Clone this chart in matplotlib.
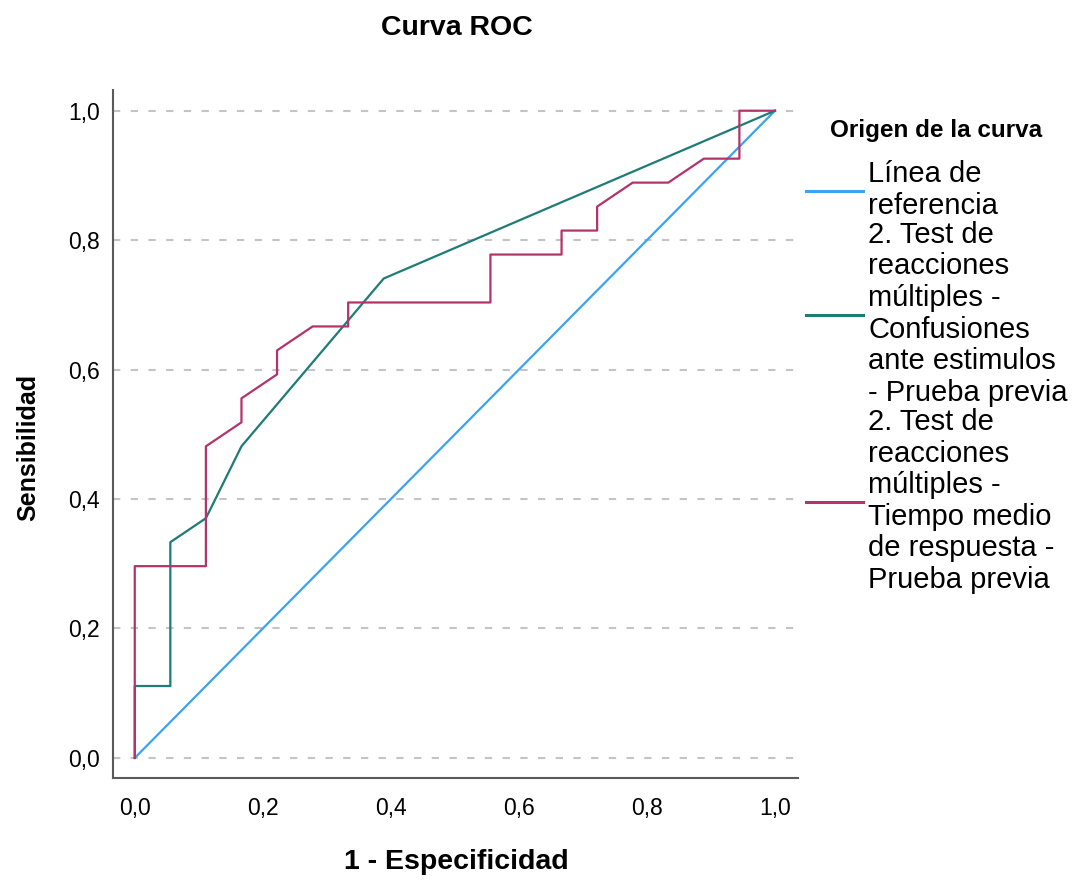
import matplotlib
matplotlib.use("Agg")
import matplotlib.pyplot as plt

plt.rcParams['font.family'] = ['Liberation Sans', 'DejaVu Sans']

# Data (FPR in 1/18 steps, TPR in 1/27 steps)
ref_x = [0.0, 1.0]
ref_y = [0.0, 1.0]

conf_x = [0.0, 0.0, 1/18, 1/18, 2/18, 3/18, 7/18, 1.0]
conf_y = [0.0, 3/27, 3/27, 9/27, 10/27, 13/27, 20/27, 1.0]

tiempo_x = [0.0, 0.0, 2/18, 2/18, 3/18, 3/18, 4/18, 4/18, 5/18, 6/18, 6/18,
            10/18, 10/18, 12/18, 12/18, 13/18, 13/18, 14/18, 15/18, 16/18,
            17/18, 17/18, 1.0]
tiempo_y = [0.0, 8/27, 8/27, 13/27, 14/27, 15/27, 16/27, 17/27, 18/27, 18/27, 19/27,
            19/27, 21/27, 21/27, 22/27, 22/27, 23/27, 24/27, 24/27, 25/27,
            25/27, 27/27, 1.0]

labels = ["Línea de\nreferencia",
          "2. Test de\nreacciones\nmúltiples -\nConfusiones\nante estimulos\n- Prueba previa",
          "2. Test de\nreacciones\nmúltiples -\nTiempo medio\nde respuesta -\nPrueba previa"]
colors = ["#3AA3F2", "#1E7B76", "#B3336C"]
ticks = [0.0, 0.2, 0.4, 0.6, 0.8, 1.0]
tick_labels = ["0,0", "0,2", "0,4", "0,6", "0,8", "1,0"]

fig = plt.figure(figsize=(10.77, 8.84), dpi=100)
ax = fig.add_axes([113/1077, 1 - 778/884, (798-113)/1077, (778-90)/884])

for t in ticks:
    ax.axhline(t, color="#C4C4C4", lw=1.5, ls=(0, (3.5, 5)), zorder=0)

ax.plot(ref_x, ref_y, color=colors[0], lw=1.6, label=labels[0], zorder=2)
ax.plot(conf_x, conf_y, color=colors[1], lw=1.6, label=labels[1], zorder=3)
ax.plot(tiempo_x, tiempo_y, color=colors[2], lw=1.6, label=labels[2], zorder=4)

ax.set_xlim(-0.034, 1.036)
ax.set_ylim(-0.031, 1.032)
ax.set_xticks(ticks)
ax.set_xticklabels(tick_labels)
ax.set_yticks(ticks)
ax.set_yticklabels(tick_labels)
ax.tick_params(length=0, labelsize=16.5)
ax.tick_params(axis='y', pad=9.5)
ax.tick_params(axis='x', pad=14)
for s in ["top", "right"]:
    ax.spines[s].set_visible(False)
for s in ["left", "bottom"]:
    ax.spines[s].set_color("#5A5A5A")
    ax.spines[s].set_linewidth(1.5)

fig.text(457/1077, 1 - 28/884, "Curva ROC", ha="center", va="center",
         fontsize=20.5, fontweight="bold")
fig.text(456/1077, 1 - 862/884, "1 - Especificidad", ha="center", va="center",
         fontsize=20.5, fontweight="bold")
fig.text(28/1077, 1 - 447/884, "Sensibilidad", ha="center", va="center",
         fontsize=18, fontweight="bold", rotation=90)
fig.text(936/1077, 1 - 130/884, "Origen de la curva", ha="center", va="center",
         fontsize=17.5, fontweight="bold")

leg = fig.legend(loc="upper left", bbox_to_anchor=(806/1077, 1 - 160/884),
                 frameon=False, fontsize=21,
                 handlelength=1.95, handletextpad=0.18, labelspacing=0.05,
                 borderaxespad=0, borderpad=0)
for t in leg.get_texts():
    t.set_linespacing(1.16)
for h in leg.legend_handles:
    h.set_linewidth(2.2)

fig.savefig("out.png", dpi=100)
